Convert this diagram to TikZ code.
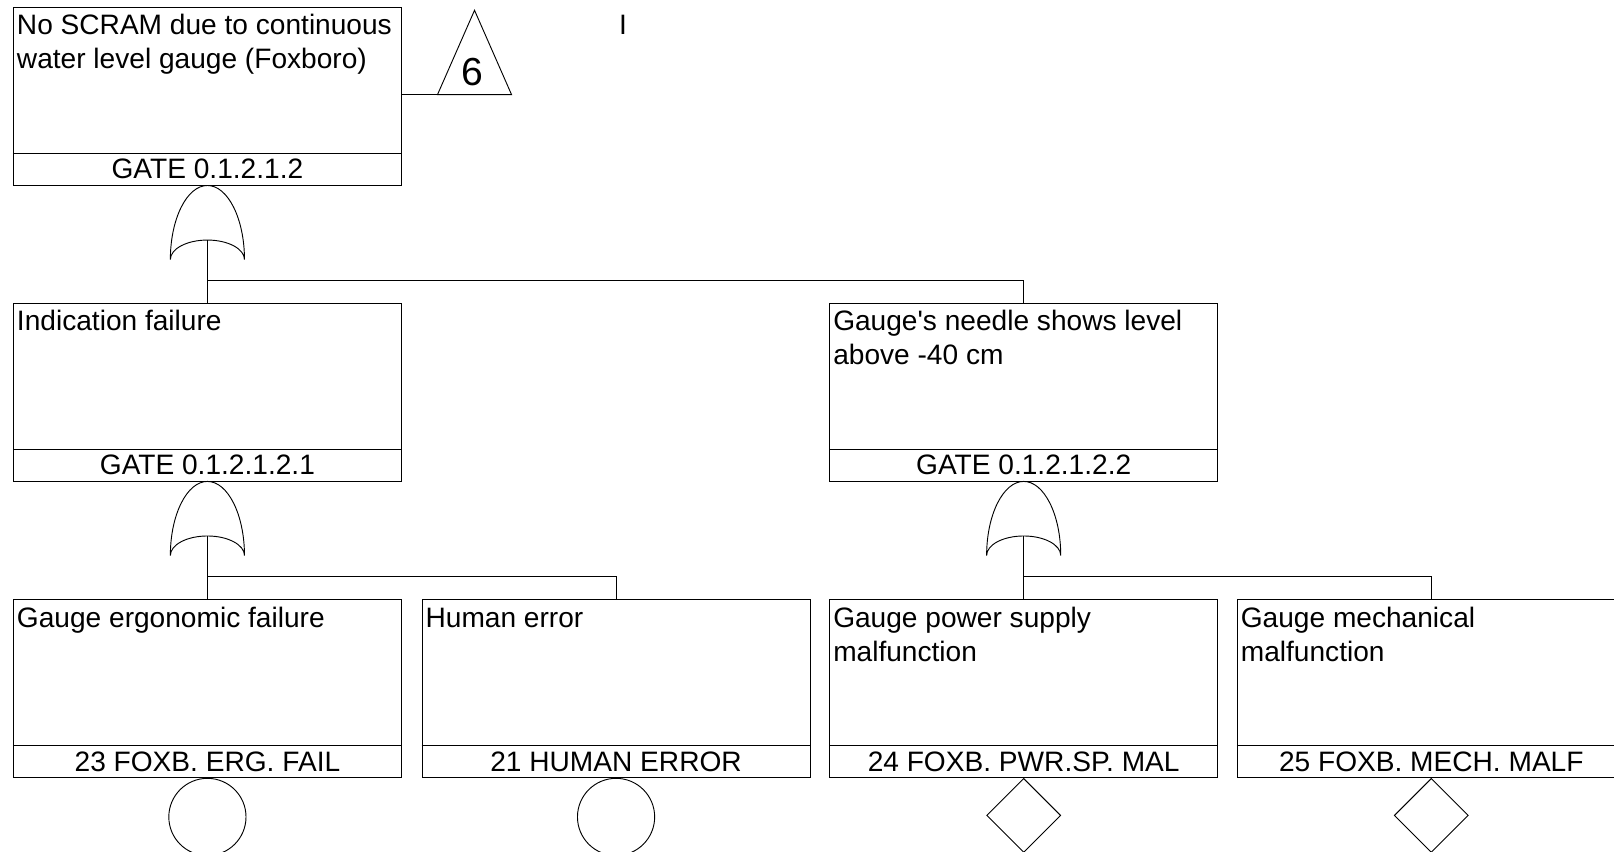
\documentclass[tikz,border=0pt]{standalone}
\usepackage{fontspec}
\setmainfont{Liberation Sans}[Ligatures=TeXOff]
\usetikzlibrary{shapes.geometric}
\newcommand{\ftev}[5]{%
  \node[evbox] (#1) at (#2,#3) {};
  \draw ([yshift=31.5pt]#1.south west) -- ([yshift=31.5pt]#1.south east);
  \node[desc] (#1-d) at ([xshift=3.5pt,yshift=-5.5pt]#1.north west) {\rule{0pt}{21pt}#4};
  \node[lbl] (#1-l) at ([yshift=16pt]#1.south) {#5};
}
\tikzset{
  evbox/.style={draw, rectangle, minimum width=377pt, minimum height=172.5pt, inner sep=0pt},
  desc/.style={anchor=north west, inner sep=0pt, align=left, font=\fontsize{27.3}{33}\selectfont},
  lbl/.style={inner sep=0pt, font=\fontsize{27.3}{33}\selectfont},
  basicev/.style={draw, circle, minimum size=75pt, inner sep=0pt, anchor=north},
  undevd/.style={draw, diamond, minimum width=72pt, minimum height=72pt, inner sep=0pt, anchor=north},
  orgate/.pic={
    \draw (-36,72) .. controls (-36,32.3) and (-19.9,0) .. (0,0)
          .. controls (19.9,0) and (36,32.3) .. (36,72)
          .. controls (36,61.5) and (19.9,53) .. (0,53)
          .. controls (-19.9,53) and (-36,61.5) .. (-36,72);
    \coordinate (-in) at (0,53);
  }
}
\begin{document}
\begin{tikzpicture}[x=1pt, y=-1pt, line width=0.9pt]
\useasboundingbox (0,0) rectangle (1568,827);

\ftev{top}{201.5}{93.5}{No SCRAM due to continuous\\water level gauge (Foxboro)}{GATE 0.1.2.1.2}
\ftev{ind}{201.5}{381}{Indication failure}{GATE 0.1.2.1.2.1}
\ftev{ned}{994.5}{381}{Gauge's needle shows level\\above -40 cm}{GATE 0.1.2.1.2.2}
\ftev{erg}{201.5}{669}{Gauge ergonomic failure}{23 FOXB. ERG. FAIL}
\ftev{hum}{598.5}{669}{Human error}{21 HUMAN ERROR}
\ftev{pwr}{994.5}{669}{Gauge power supply\\malfunction}{24 FOXB. PWR.SP. MAL}
\ftev{mec}{1390.5}{669}{Gauge mechanical\\malfunction}{25 FOXB. MECH. MALF}

% transfer triangle
\coordinate (tl) at (425,92);
\coordinate (tr) at (497,92);
\coordinate (ta) at (461,10);
\draw (tl) -- (ta) -- (tr) -- cycle;
\draw (top.east |- tl) -- (tl);
\node[inner sep=0pt, font=\fontsize{38}{40}\selectfont] (trn) at (459,70) {6};

\node[desc] (cur) at (601,14) {I};

% gates
\pic (g1) at (top.south) {orgate};
\pic (g2) at (ind.south) {orgate};
\pic (g3) at (ned.south) {orgate};
\coordinate (bar1) at (0,272.5);
\coordinate (bar2) at (0,560.5);
\draw (g1-in) -- (ind.north);
\draw (g1-in |- bar1) -| (ned.north);
\draw (g2-in) -- (erg.north);
\draw (g2-in |- bar2) -| (hum.north);
\draw (g3-in) -- (pwr.north);
\draw (g3-in |- bar2) -| (mec.north);

% primary events
\node[basicev] (erg-e) at (erg.south) {};
\node[basicev] (hum-e) at (hum.south) {};
\node[undevd] (pwr-e) at (pwr.south) {};
\node[undevd] (mec-e) at (mec.south) {};
\end{tikzpicture}
\end{document}
